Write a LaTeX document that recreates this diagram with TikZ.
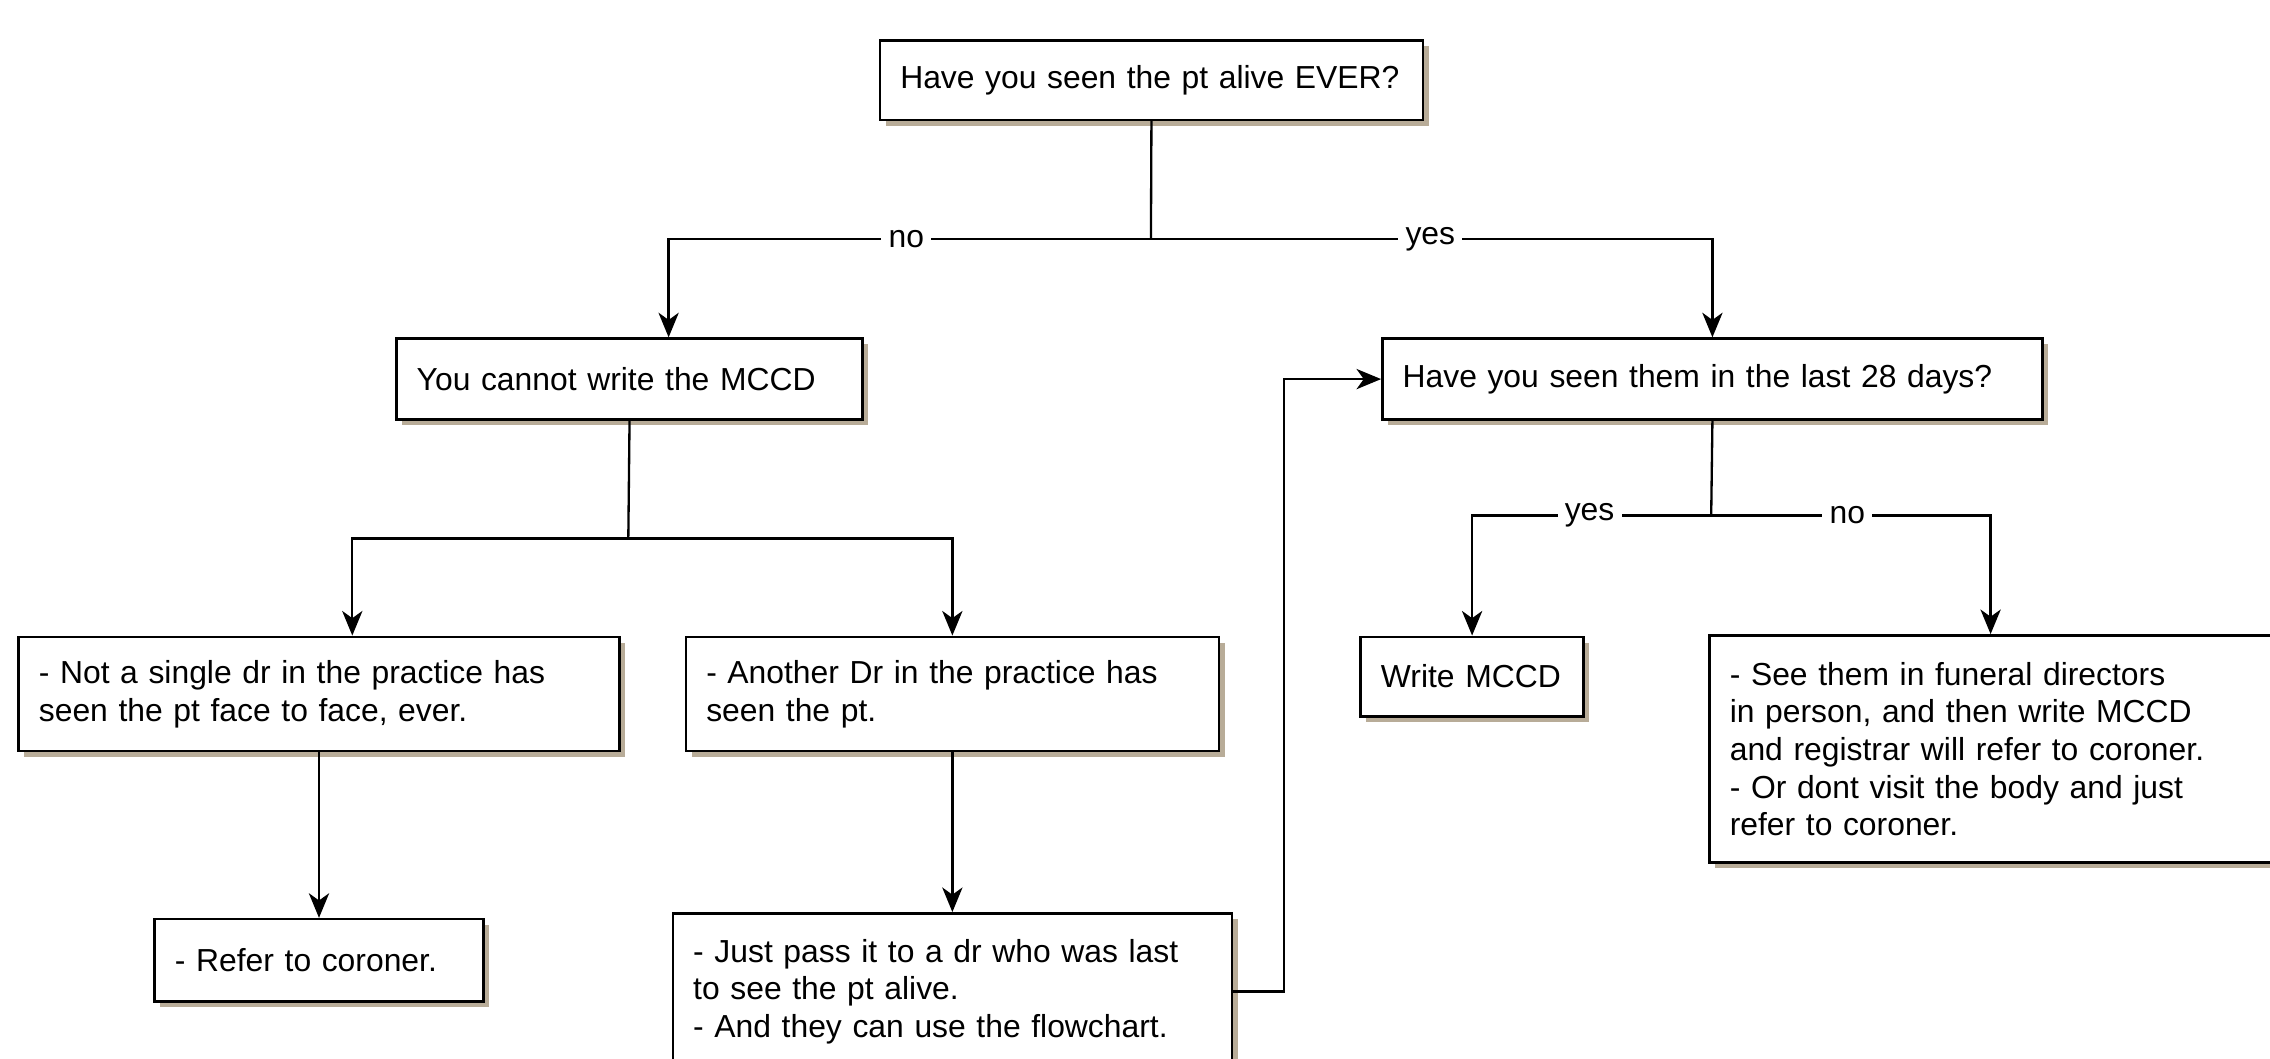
\documentclass[tikz,border=0pt]{standalone}
\usepackage{fontspec}
\setmainfont{Liberation Sans}
\usetikzlibrary{arrows.meta,shadows,calc}
\definecolor{shadowc}{RGB}{184,172,152}
\begin{document}
\begin{tikzpicture}[x=1pt,y=-1pt,
  txt/.style={font=\fontsize{22}{26}\selectfont},
  box/.style={txt, draw=black, line width=1.7pt, fill=white, anchor=north west,
    align=left, inner xsep=14pt, inner ysep=0pt,
    drop shadow={shadow xshift=4pt, shadow yshift=-4pt, fill=shadowc, opacity=1}},
  conn/.style={line width=1.6pt},
  arr/.style={conn, -{Stealth[length=17pt,width=14pt,inset=5pt]}},
  lab/.style={txt, fill=white, inner xsep=5pt, inner ysep=1pt}]
\fill[white] (0,0) rectangle (1568,731);
\useasboundingbox (0,0) rectangle (1568,731);

\node[box, text width=347pt, minimum height=55pt] (A) at (607,27) {Have you seen the pt alive EVER?};
\node[box, text width=294pt, minimum height=56pt] (B) at (273,233) {You cannot write the MCCD};
\node[box, text width=428pt, minimum height=56pt] (C) at (954,233) {Have you seen them in the last 28 days?};
\node[box, text width=387pt, minimum height=79pt] (D) at (12,439) {- Not a single dr in the practice has\\seen the pt face to face, ever.};
\node[box, text width=340pt, minimum height=79pt] (E) at (473,439) {- Another Dr in the practice has\\seen the pt.};
\node[box, text width=199pt, minimum height=57pt] (F) at (106,634) {- Refer to coroner.};
\node[box, text width=358pt, minimum height=108pt] (G) at (464,630) {- Just pass it to a dr who was last\\to see the pt alive.\\- And they can use the flowchart.};
\node[box, text width=126pt, minimum height=55pt] (H) at (939,439) {Write MCCD};
\node[box, text width=392pt, minimum height=157pt] (I) at (1180,438) {- See them in funeral directors\\in person, and then write MCCD\\and registrar will refer to coroner.\\- Or dont visit the body and just\\refer to coroner.};

\coordinate (j1) at (795,165);
\coordinate (j2) at (434,372);
\coordinate (j3) at (1182,356);

\draw[conn] (A.south) -- (j1);
\draw[arr] (j1) -| ([xshift=27pt]B.north);
\draw[arr] (j1) -| (C.north);
\node[lab] (no1) at (626,165) {no};
\node[lab] (yes1) at (988,165) {yes};

\draw[conn] (B.south) -- (j2);
\draw[arr] (j2) -| ([xshift=23pt]D.north);
\draw[arr] (j2) -| (E.north);

\draw[arr] (D.south) -- (F.north);
\draw[arr] (E.south) -- (G.north);
\draw[arr] (G.east) -- ++(35,0) |- (C.west);

\draw[conn] (C.south) -- (j3);
\draw[arr] (j3) -| (H.north);
\draw[arr] (j3) -| ([xshift=195pt]I.north west);
\node[lab] (yes2) at (1098,356) {yes};
\node[lab] (no2) at (1276,356) {no};
\end{tikzpicture}
\end{document}
